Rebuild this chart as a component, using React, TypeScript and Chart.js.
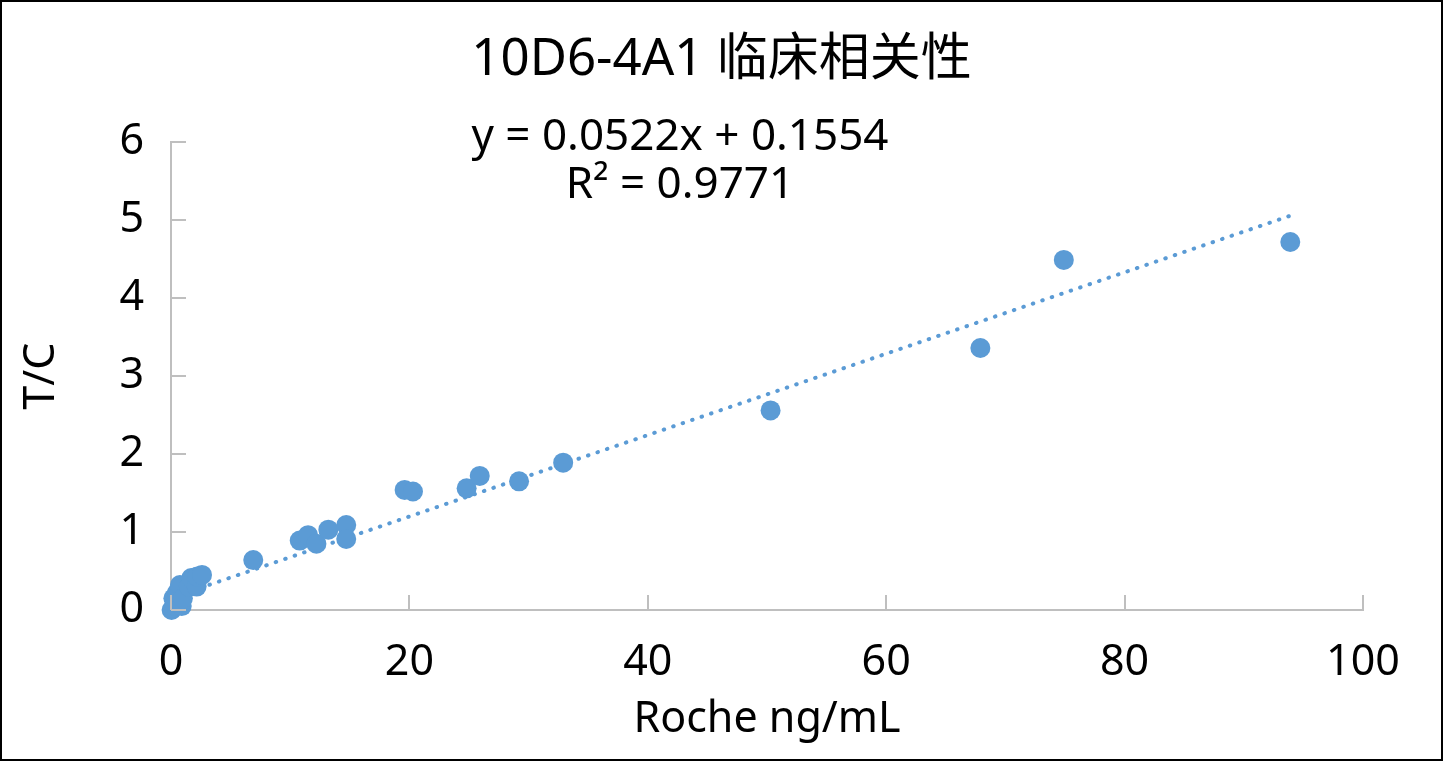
import { useEffect, useRef } from "react";
import { Chart, registerables } from "chart.js";
Chart.register(...registerables);

const TITLE = "10D6-4A1 临床相关性";
const X_TITLE = "Roche ng/mL";
const Y_TITLE = "T/C";

// Roche reference values (ng/mL) and T/C
const ROCHE = [
  0.05, 0.2, 0.3, 0.5, 0.75, 0.9, 1.0, 1.5, 1.7, 2.15, 2.2, 2.6,
  6.9, 10.8, 11.5, 12.2, 13.2, 14.7, 14.7,
  19.6, 20.3, 24.8, 25.9, 29.2, 32.9,
  50.3, 67.9, 74.9, 93.9,
];
const TC = [
  0.0, 0.15, 0.06, 0.22, 0.32, 0.05, 0.15, 0.3, 0.41, 0.3, 0.43, 0.45,
  0.64, 0.89, 0.96, 0.85, 1.03, 1.09, 0.91,
  1.54, 1.52, 1.56, 1.72, 1.65, 1.89,
  2.56, 3.36, 4.49, 4.72,
];

const TREND_SLOPE = 0.0522;
const TREND_INTERCEPT = 0.1554;
const EQUATION_LINES = ["y = 0.0522x + 0.1554", "R² = 0.9771"];
// where the equation label sits, in data units
const EQUATION_AT = { x: 42.7, y: [6.06, 5.45] };

const X_MIN = 0, X_MAX = 100, X_STEP = 20;
const Y_MIN = 0, Y_MAX = 6, Y_STEP = 1;

const BLUE = "#5b9bd5";
const AXIS = "#bfbfbf";
const FONT = '"Noto Sans", "Noto Sans CJK SC", sans-serif';

// small tick marks drawn inside the plot, like Excel's
const innerTicks = {
  id: "innerTicks",
  afterDraw(chart: any) {
    const { ctx, chartArea, scales } = chart;
    ctx.save();
    ctx.strokeStyle = AXIS;
    ctx.lineWidth = 2;
    scales.x.ticks.forEach((t: any) => {
      const px = Math.round(scales.x.getPixelForValue(t.value));
      ctx.beginPath();
      ctx.moveTo(px, chartArea.bottom);
      ctx.lineTo(px, chartArea.bottom - 15);
      ctx.stroke();
    });
    scales.y.ticks.forEach((t: any) => {
      const py = Math.round(scales.y.getPixelForValue(t.value));
      ctx.beginPath();
      ctx.moveTo(chartArea.left, py);
      ctx.lineTo(chartArea.left + 15, py);
      ctx.stroke();
    });
    ctx.restore();
  },
};

const equationLabel = {
  id: "equationLabel",
  afterDraw(chart: any) {
    const { ctx, scales } = chart;
    ctx.save();
    ctx.fillStyle = "#000";
    ctx.font = `44px ${FONT}`;
    ctx.textAlign = "center";
    ctx.textBaseline = "middle";
    const px = scales.x.getPixelForValue(EQUATION_AT.x);
    EQUATION_LINES.forEach((line, i) => {
      ctx.fillText(line, px, scales.y.getPixelForValue(EQUATION_AT.y[i]));
    });
    ctx.restore();
  },
};

export default function App() {
  const canvasRef = useRef<HTMLCanvasElement>(null);

  useEffect(() => {
    document.body.style.margin = "0";
    if (!canvasRef.current) return;
    const xLo = Math.min(...ROCHE);
    const xHi = Math.max(...ROCHE);
    const chart = new Chart(canvasRef.current, {
      type: "scatter",
      data: {
        datasets: [
          {
            label: "T/C",
            data: ROCHE.map((x, i) => ({ x, y: TC[i] })),
            backgroundColor: BLUE,
            borderColor: BLUE,
            borderWidth: 0,
            pointRadius: 10,
            clip: false,
          },
          {
            type: "line",
            label: "trend",
            data: [
              { x: xLo, y: TREND_SLOPE * xLo + TREND_INTERCEPT },
              { x: xHi, y: TREND_SLOPE * xHi + TREND_INTERCEPT },
            ],
            borderColor: BLUE,
            borderWidth: 4,
            borderDash: [0.5, 9.5],
            borderCapStyle: "round",
            pointRadius: 0,
            fill: false,
          },
        ],
      },
      options: {
        animation: false,
        responsive: false,
        devicePixelRatio: 1,
        layout: { padding: 0 },
        plugins: {
          legend: { display: false },
          tooltip: { enabled: false },
          title: {
            display: true,
            text: TITLE,
            color: "#000",
            font: { family: FONT, size: 51, weight: "normal" },
            padding: { top: 28, bottom: 51 },
          },
        },
        scales: {
          x: {
            type: "linear",
            min: X_MIN,
            max: X_MAX,
            grid: { display: false, drawTicks: false },
            border: { color: AXIS, width: 2 },
            ticks: {
              stepSize: X_STEP,
              color: "#000",
              padding: 27,
              maxRotation: 0,
              font: { family: FONT, size: 43 },
            },
            title: {
              display: true,
              text: X_TITLE,
              color: "#000",
              padding: 13,
              font: { family: FONT, size: 43 },
            },
            afterFit: (s: any) => { s.height = 149; },
          },
          y: {
            min: Y_MIN,
            max: Y_MAX,
            grid: { display: false, drawTicks: false },
            border: { color: AXIS, width: 2 },
            ticks: {
              stepSize: Y_STEP,
              color: "#000",
              padding: 27,
              font: { family: FONT, size: 43 },
            },
            title: {
              display: true,
              text: Y_TITLE,
              color: "#000",
              padding: 14,
              font: { family: FONT, size: 43 },
            },
            afterFit: (s: any) => { s.width = 169; },
          },
          // empty right-hand strip so the plot ends where the reference does
          spacer: {
            position: "right",
            grid: { display: false, drawTicks: false },
            border: { display: false },
            ticks: { display: false },
            afterFit: (s: any) => { s.width = 78; },
          },
        },
      },
      plugins: [innerTicks, equationLabel],
    } as any);
    return () => chart.destroy();
  }, []);

  return (
    <div
      style={{
        width: 1443,
        height: 761,
        border: "2px solid #000",
        boxSizing: "border-box",
        background: "#fff",
      }}
    >
      <canvas ref={canvasRef} width={1439} height={757} />
    </div>
  );
}
